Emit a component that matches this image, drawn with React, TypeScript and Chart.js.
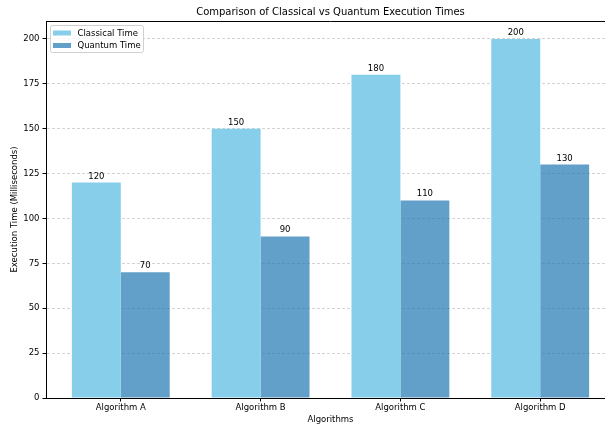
import React, { useEffect, useRef } from 'react';
import { Chart, registerables } from 'chart.js';

Chart.register(...registerables);

const algorithms = ['Algorithm A', 'Algorithm B', 'Algorithm C', 'Algorithm D'];
const classicalTimes = [120, 150, 180, 200];
const quantumTimes = [70, 90, 110, 130];
const seriesNames = ['Classical Time', 'Quantum Time'];
const seriesColors = ['#87CEEB', 'rgba(31,119,180,0.7)'];

const FONT = '"DejaVu Sans", "Liberation Sans", sans-serif';
const TEXT_SIZE = 8.5;
const TITLE = 'Comparison of Classical vs Quantum Execution Times';

const decorations = {
  id: 'decorations',
  afterDatasetsDraw(chart: any) {
    const ctx = chart.ctx;
    ctx.save();
    ctx.font = `${TEXT_SIZE}px ${FONT}`;
    ctx.fillStyle = '#000';
    ctx.textAlign = 'center';
    ctx.textBaseline = 'bottom';
    chart.data.datasets.forEach((ds: any, di: number) => {
      const meta = chart.getDatasetMeta(di);
      meta.data.forEach((bar: any, i: number) => {
        ctx.fillText(String(ds.data[i].y), bar.x, bar.y - 2);
      });
    });
    ctx.restore();
  },
  afterDraw(chart: any) {
    const ctx = chart.ctx;
    const area = chart.chartArea;
    ctx.save();

    // title
    ctx.font = `10px ${FONT}`;
    ctx.fillStyle = '#000';
    ctx.textAlign = 'center';
    ctx.textBaseline = 'middle';
    ctx.fillText(TITLE, (area.left + area.right) / 2, 12);

    // top spine
    ctx.strokeStyle = '#000';
    ctx.lineWidth = 1;
    ctx.beginPath();
    ctx.moveTo(area.left, area.top + 0.5);
    ctx.lineTo(area.right, area.top + 0.5);
    ctx.stroke();

    // legend
    const lx = area.left + 4.5;
    const ly = area.top + 4.5;
    const lw = 93;
    const lh = 27;
    const r = 2;
    ctx.beginPath();
    ctx.moveTo(lx + r, ly);
    ctx.lineTo(lx + lw - r, ly);
    ctx.quadraticCurveTo(lx + lw, ly, lx + lw, ly + r);
    ctx.lineTo(lx + lw, ly + lh - r);
    ctx.quadraticCurveTo(lx + lw, ly + lh, lx + lw - r, ly + lh);
    ctx.lineTo(lx + r, ly + lh);
    ctx.quadraticCurveTo(lx, ly + lh, lx, ly + lh - r);
    ctx.lineTo(lx, ly + r);
    ctx.quadraticCurveTo(lx, ly, lx + r, ly);
    ctx.closePath();
    ctx.fillStyle = 'rgba(255,255,255,0.8)';
    ctx.fill();
    ctx.strokeStyle = '#d0d0d0';
    ctx.lineWidth = 1;
    ctx.stroke();

    ctx.font = `${TEXT_SIZE}px ${FONT}`;
    ctx.textAlign = 'left';
    ctx.textBaseline = 'middle';
    seriesNames.forEach((name, i) => {
      const rowY = ly + 7.5 + i * 12.5;
      ctx.fillStyle = seriesColors[i];
      ctx.fillRect(lx + 2.5, rowY - 2.5, 18, 5);
      ctx.fillStyle = '#000';
      ctx.fillText(name, lx + 27, rowY + 0.5);
    });

    ctx.restore();
  },
};

export default function App() {
  const canvasRef = useRef<HTMLCanvasElement | null>(null);

  useEffect(() => {
    const canvas = canvasRef.current;
    if (!canvas) return;

    const chart = new Chart(canvas, {
      type: 'bar',
      data: {
        datasets: [
          {
            label: seriesNames[0],
            data: classicalTimes.map((v, i) => ({ x: i, y: v })),
            backgroundColor: seriesColors[0],
            borderWidth: 0,
          },
          {
            label: seriesNames[1],
            data: quantumTimes.map((v, i) => ({ x: i, y: v })),
            backgroundColor: seriesColors[1],
            borderWidth: 0,
          },
        ],
      },
      options: {
        responsive: false,
        animation: false,
        events: [],
        categoryPercentage: 0.7,
        barPercentage: 1,
        layout: { padding: { top: 21, right: 1, left: 0, bottom: 0 } },
        plugins: {
          legend: { display: false },
          title: { display: false },
          tooltip: { enabled: false },
        },
        scales: {
          x: {
            type: 'linear',
            offset: false,
            min: -0.535,
            max: 3.535,
            afterBuildTicks: (scale: any) => {
              scale.ticks = algorithms.map((_, i) => ({ value: i }));
            },
            afterFit: (scale: any) => {
              scale.height = 27;
            },
            ticks: {
              autoSkip: false,
              maxRotation: 0,
              padding: 1.5,
              color: '#000',
              font: { family: FONT, size: TEXT_SIZE },
              callback: (value: any) => algorithms[Math.round(Number(value))] ?? '',
            },
            grid: {
              offset: false,
              drawOnChartArea: false,
              drawTicks: true,
              tickLength: 3.5,
              tickColor: '#000',
              tickWidth: 1,
            },
            border: { display: true, color: '#000', width: 1 },
            title: {
              display: true,
              text: 'Algorithms',
              color: '#000',
              font: { family: FONT, size: TEXT_SIZE },
              padding: { top: 0, bottom: 0 },
            },
          },
          y: {
            type: 'linear',
            min: 0,
            max: 210,
            afterFit: (scale: any) => {
              scale.width = 46;
            },
            ticks: {
              stepSize: 25,
              includeBounds: false,
              padding: 3,
              color: '#000',
              font: { family: FONT, size: TEXT_SIZE },
            },
            grid: {
              color: 'rgba(176,176,176,0.7)',
              lineWidth: 0.8,
              drawTicks: true,
              tickLength: 3.5,
              tickColor: '#000',
              tickWidth: 1,
              tickBorderDash: [],
            },
            border: { display: true, color: '#000', width: 1, dash: [3, 2] },
            title: {
              display: true,
              text: 'Execution Time (Milliseconds)',
              color: '#000',
              font: { family: FONT, size: TEXT_SIZE },
              padding: { top: 10, bottom: 0 },
            },
          },
        },
      },
      plugins: [decorations],
    } as any);

    return () => chart.destroy();
  }, []);

  return (
    <div
      style={{
        position: 'absolute',
        left: 0,
        top: 0,
        width: 605,
        height: 425,
        overflow: 'hidden',
        background: '#fff',
      }}
    >
      <canvas ref={canvasRef} width={616} height={425} style={{ display: 'block' }} />
    </div>
  );
}
